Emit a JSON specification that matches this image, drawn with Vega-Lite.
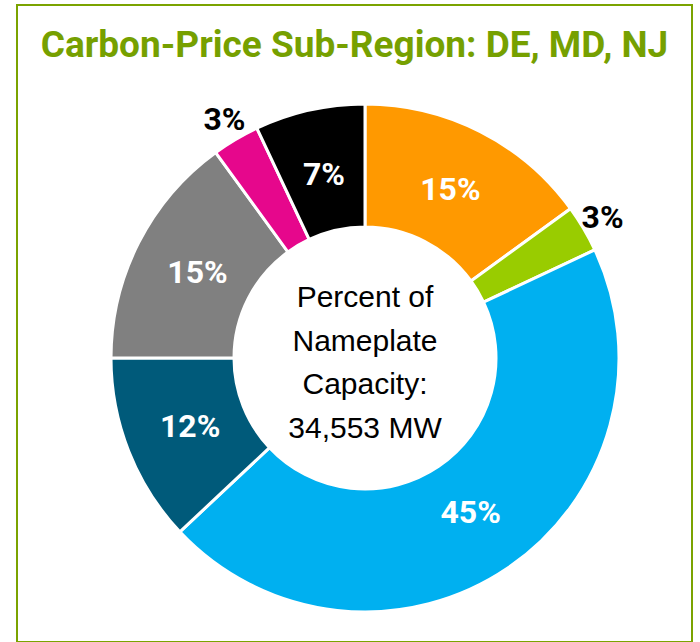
{
  "$schema": "https://vega.github.io/schema/vega-lite/v6.json",
  "autosize": "none",
  "width": 675,
  "height": 637,
  "padding": {"left": 17, "top": 5, "right": 8, "bottom": 0},
  "background": "white",
  "view": {"stroke": "#7BA300", "strokeWidth": 2, "fill": "white"},
  "title": {
    "text": "Carbon-Price Sub-Region: DE, MD, NJ",
    "anchor": "middle",
    "frame": "group",
    "orient": "top",
    "offset": 0,
    "baseline": "alphabetic",
    "dy": 89,
    "dx": 0,
    "font": "Roboto",
    "fontWeight": "bold",
    "fontSize": 37,
    "color": "#76A000"
  },
  "data": {
    "values": [
      {"fuel": "Nuclear", "pct": 15, "label": "15%", "rank": 1},
      {"fuel": "Renewables", "pct": 3, "label": "3%", "rank": 2},
      {"fuel": "Natural Gas", "pct": 45, "label": "45%", "rank": 3},
      {"fuel": "Oil", "pct": 12, "label": "12%", "rank": 4},
      {"fuel": "Coal", "pct": 15, "label": "15%", "rank": 5},
      {"fuel": "Hydro", "pct": 3, "label": "3%", "rank": 6},
      {"fuel": "Other", "pct": 7, "label": "7%", "rank": 7}
    ]
  },
  "encoding": {
    "theta": {"field": "pct", "type": "quantitative", "stack": true},
    "order": {"field": "rank", "type": "quantitative"}
  },
  "layer": [
    {
      "mark": {"type": "arc", "outerRadius": 254, "innerRadius": 131, "stroke": "white", "strokeWidth": 3, "x": 348, "y": 353},
      "encoding": {
        "color": {
          "field": "fuel",
          "type": "nominal",
          "scale": {
            "domain": ["Nuclear", "Renewables", "Natural Gas", "Oil", "Coal", "Hydro", "Other"],
            "range": ["#FF9900", "#99CC00", "#00B0F0", "#005A7A", "#808080", "#E6078C", "#000000"]
          },
          "legend": null
        }
      }
    },
    {
      "mark": {"type": "text", "radius": 188, "x": 348, "y": 353, "font": "Roboto", "fontWeight": "bold", "fontSize": 32, "fill": "white", "baseline": "middle", "align": "center"},
      "encoding": {
        "text": {"condition": {"test": "datum.pct > 5", "field": "label"}, "value": ""}
      }
    },
    {
      "mark": {"type": "text", "radius": 276, "x": 348, "y": 353, "font": "Roboto", "fontWeight": "bold", "fontSize": 32, "fill": "black", "baseline": "middle", "align": "center"},
      "encoding": {
        "text": {"condition": {"test": "datum.pct <= 5", "field": "label"}, "value": ""}
      }
    },
    {
      "data": {"values": [{"caption": "Percent of\nNameplate\nCapacity:\n34,553 MW"}]},
      "mark": {"type": "text", "x": 348, "y": 353, "dy": -51, "font": "Liberation Sans", "fontSize": 30, "lineBreak": "\n", "lineHeight": 43.5, "baseline": "alphabetic", "align": "center", "fill": "black"},
      "encoding": {
        "text": {"field": "caption"},
        "theta": null,
        "order": null
      }
    }
  ]
}
